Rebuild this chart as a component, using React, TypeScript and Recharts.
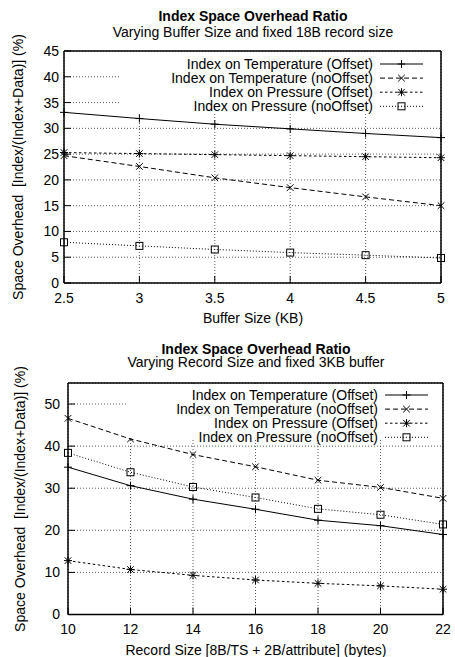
import React from 'react';
import { LineChart, Line, XAxis, YAxis, CartesianGrid, Legend } from 'recharts';

// buffer size experiment (fixed 18B record)
const bufferSizes = [2.5, 3, 3.5, 4, 4.5, 5];
const bufTempOffset = [33.1, 31.9, 30.8, 29.9, 29.0, 28.2];
const bufTempNoOffset = [24.7, 22.6, 20.4, 18.5, 16.7, 15.0];
const bufPresOffset = [25.3, 25.1, 24.9, 24.7, 24.5, 24.3];
const bufPresNoOffset = [7.9, 7.2, 6.5, 5.9, 5.4, 4.85];
const bufYTicks = [0, 5, 10, 15, 20, 25, 30, 35, 40, 45];

// record size experiment (fixed 3KB buffer)
const recordSizes = [10, 12, 14, 16, 18, 20, 22];
const recTempOffset = [35.0, 30.6, 27.4, 25.0, 22.4, 21.1, 19.0];
const recTempNoOffset = [46.6, 41.7, 38.0, 35.1, 31.9, 30.2, 27.6];
const recPresOffset = [12.8, 10.7, 9.3, 8.2, 7.4, 6.8, 6.0];
const recPresNoOffset = [38.4, 33.8, 30.3, 27.8, 25.1, 23.7, 21.4];
const recYTicks = [0, 10, 20, 30, 40, 50];

const seriesNames = [
  'Index on Temperature (Offset)',
  'Index on Temperature (noOffset)',
  'Index on Pressure (Offset)',
  'Index on Pressure (noOffset)',
];
const yLabel = 'Space Overhead  [Index/(Index+Data)] (%)';

const STYLES = [
  { key: 'tOff', dash: undefined, marker: 'plus' },
  { key: 'tNo', dash: '5 3', marker: 'cross' },
  { key: 'pOff', dash: '2.5 2.5', marker: 'star' },
  { key: 'pNo', dash: '1 2', marker: 'square' },
];

const FONT = '"Liberation Sans", Arial, Helvetica, sans-serif';
const FS = 14;

const Marker = ({ cx, cy, kind }: { cx?: number; cy?: number; kind: string }) => {
  if (cx == null || cy == null) return null;
  const st = { stroke: '#000', strokeWidth: 1, fill: 'none' };
  const s = 4;
  const d = 3.3;
  if (kind === 'plus') {
    return (
      <g>
        <line x1={cx - s} y1={cy} x2={cx + s} y2={cy} {...st} />
        <line x1={cx} y1={cy - s} x2={cx} y2={cy + s} {...st} />
      </g>
    );
  }
  if (kind === 'cross') {
    return (
      <g>
        <line x1={cx - d} y1={cy - d} x2={cx + d} y2={cy + d} {...st} />
        <line x1={cx - d} y1={cy + d} x2={cx + d} y2={cy - d} {...st} />
      </g>
    );
  }
  if (kind === 'star') {
    return (
      <g>
        <line x1={cx - s} y1={cy} x2={cx + s} y2={cy} {...st} />
        <line x1={cx} y1={cy - s} x2={cx} y2={cy + s} {...st} />
        <line x1={cx - d} y1={cy - d} x2={cx + d} y2={cy + d} {...st} />
        <line x1={cx - d} y1={cy + d} x2={cx + d} y2={cy - d} {...st} />
      </g>
    );
  }
  return <rect x={cx - 3.5} y={cy - 3.5} width={7} height={7} {...st} />;
};

interface BoxSpec {
  left: number;
  top: number;
  width: number;
  height: number;
  bgHeight: number;
  firstRow: number;
  textRight: number;
  sampleFrom: number;
  sampleTo: number;
}

const KeyBox = ({ b }: { b: BoxSpec }) => (
  <svg width={b.width} height={b.height} style={{ display: 'block', overflow: 'visible' }}>
    <rect x={0} y={0} width={b.width} height={b.bgHeight} fill="#fff" />
    {STYLES.map((s, i) => {
      const y = b.firstRow + i * 14.1;
      return (
        <g key={s.key}>
          <text x={b.textRight} y={y} textAnchor="end" dominantBaseline="central" fontSize={FS} fontFamily={FONT} fill="#000">
            {seriesNames[i]}
          </text>
          <line x1={b.sampleFrom} y1={y} x2={b.sampleTo} y2={y} stroke="#000" strokeWidth={1} strokeDasharray={s.dash} />
          <Marker cx={(b.sampleFrom + b.sampleTo) / 2} cy={y} kind={s.marker} />
        </g>
      );
    })}
  </svg>
);

interface PanelProps {
  top: number;
  height: number;
  xs: number[];
  series: number[][];
  yTicks: number[];
  yMax: number;
  margin: { top: number; right: number; bottom: number };
  yAxisWidth: number;
  yTickMargin: number;
  title: string;
  subtitle: string;
  titleY: number;
  subtitleY: number;
  xLabel: string;
  xLabelY: number;
  yLabelX: number;
  centerX: number;
  box: BoxSpec;
}

const Panel = (p: PanelProps) => {
  const data = p.xs.map((x, i) => ({
    x,
    tOff: p.series[0][i],
    tNo: p.series[1][i],
    pOff: p.series[2][i],
    pNo: p.series[3][i],
  }));
  const plotTop = p.top + p.margin.top;
  const plotBottom = p.top + p.height - p.margin.bottom - 20;
  const axisLine = { stroke: '#000', strokeWidth: 1.5 };
  const tickLine = { stroke: '#000', strokeWidth: 1 };
  const text: React.CSSProperties = { position: 'absolute', fontSize: FS, color: '#000', lineHeight: '12px', height: 12, whiteSpace: 'pre', textAlign: 'center' };
  return (
    <>
      <div style={{ ...text, left: p.centerX - 200, width: 400, top: p.titleY - 6, fontWeight: 'bold' }}>{p.title}</div>
      <div style={{ ...text, left: p.centerX - 200, width: 400, top: p.subtitleY - 6 }}>{p.subtitle}</div>
      <div
        style={{
          ...text,
          left: p.yLabelX - 160,
          width: 320,
          top: (plotTop + plotBottom) / 2 - 6,
          transform: 'rotate(-90deg)',
        }}
      >
        {yLabel}
      </div>
      <div style={{ ...text, left: p.centerX - 200, width: 400, top: p.xLabelY - 6 }}>{p.xLabel}</div>
      <div style={{ position: 'absolute', left: 0, top: p.top }}>
        <LineChart
          width={455}
          height={p.height}
          data={data}
          margin={{ top: p.margin.top, right: p.margin.right, bottom: p.margin.bottom, left: 0 }}
        >
          <CartesianGrid stroke="#333" strokeWidth={0.8} strokeDasharray="1 2" />
          <XAxis
            dataKey="x"
            type="number"
            domain={[p.xs[0], p.xs[p.xs.length - 1]]}
            ticks={p.xs}
            height={20}
            tickSize={-7}
            tickMargin={17}
            axisLine={axisLine}
            tickLine={tickLine}
            tick={{ fontSize: FS, fill: '#000', fontFamily: FONT }}
          />
          <XAxis
            xAxisId="top"
            dataKey="x"
            orientation="top"
            mirror
            type="number"
            domain={[p.xs[0], p.xs[p.xs.length - 1]]}
            ticks={p.xs}
            tick={false}
            tickSize={7}
            axisLine={axisLine}
            tickLine={tickLine}
          />
          <YAxis
            type="number"
            domain={[0, p.yMax]}
            ticks={p.yTicks}
            width={p.yAxisWidth}
            tickSize={-7}
            tickMargin={p.yTickMargin}
            axisLine={axisLine}
            tickLine={tickLine}
            tick={{ fontSize: FS, fill: '#000', fontFamily: FONT }}
          />
          <YAxis
            yAxisId="right"
            orientation="right"
            mirror
            type="number"
            domain={[0, p.yMax]}
            ticks={p.yTicks}
            tick={false}
            tickSize={7}
            axisLine={axisLine}
            tickLine={tickLine}
          />
          <Legend
            layout="horizontal"
            verticalAlign="middle"
            align="center"
            width={p.box.width}
            height={p.box.height}
            wrapperStyle={{ left: p.box.left, top: p.box.top, width: p.box.width, height: p.box.height }}
            content={() => <KeyBox b={p.box} />}
          />
          {STYLES.map((s, i) => (
            <Line
              key={s.key}
              dataKey={s.key}
              name={seriesNames[i]}
              type="linear"
              stroke="#000"
              strokeWidth={1}
              strokeDasharray={s.dash}
              dot={(d: any) => <Marker key={`${s.key}-${d.index}`} cx={d.cx} cy={d.cy} kind={s.marker} />}
              activeDot={false}
              isAnimationActive={false}
            />
          ))}
        </LineChart>
      </div>
    </>
  );
};

const App = () => (
  <div
    style={{
      position: 'absolute',
      left: 0,
      top: 0,
      width: 455,
      height: 657,
      background: '#fff',
      fontFamily: FONT,
      overflow: 'hidden',
    }}
  >
    <Panel
      top={0}
      height={330}
      xs={bufferSizes}
      series={[bufTempOffset, bufTempNoOffset, bufPresOffset, bufPresNoOffset]}
      yTicks={bufYTicks}
      yMax={45}
      margin={{ top: 51, right: 14, bottom: 27 }}
      yAxisWidth={64}
      yTickMargin={12}
      title="Index Space Overhead Ratio"
      subtitle="Varying Buffer Size and fixed 18B record size"
      titleY={16}
      subtitleY={31.5}
      xLabel="Buffer Size (KB)"
      xLabelY={318}
      yLabelX={18}
      centerX={253}
      box={{ left: 120, top: 52, width: 320, height: 62, bgHeight: 62, firstRow: 12, textRight: 253, sampleFrom: 260, sampleTo: 303 }}
    />
    <Panel
      top={330}
      height={327}
      xs={recordSizes}
      series={[recTempOffset, recTempNoOffset, recPresOffset, recPresNoOffset]}
      yTicks={recYTicks}
      yMax={55}
      margin={{ top: 53, right: 12, bottom: 22.5 }}
      yAxisWidth={68}
      yTickMargin={15}
      title="Index Space Overhead Ratio"
      subtitle="Varying Record Size and fixed 3KB buffer"
      titleY={349}
      subtitleY={362}
      xLabel="Record Size [8B/TS + 2B/attribute] (bytes)"
      xLabelY={650}
      yLabelX={20}
      centerX={256}
      box={{ left: 126, top: 54, width: 316, height: 60, bgHeight: 54, firstRow: 11, textRight: 252, sampleFrom: 259, sampleTo: 302 }}
    />
  </div>
);

export default App;
